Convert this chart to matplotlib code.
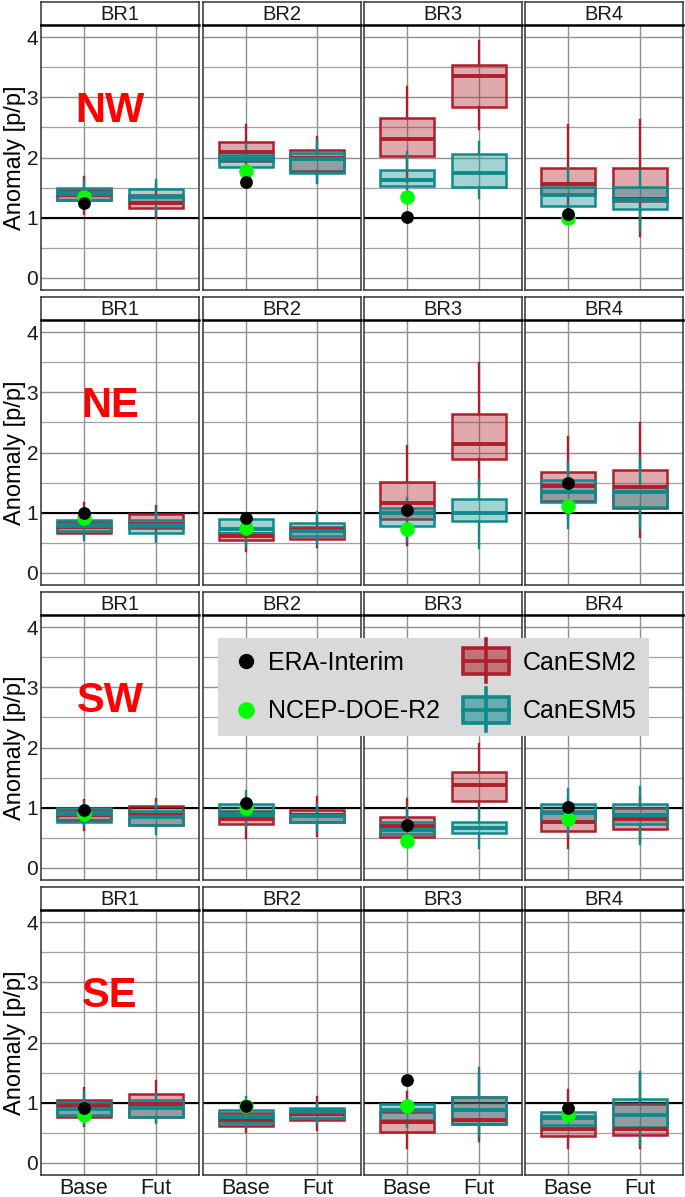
import matplotlib
matplotlib.use("Agg")
import matplotlib.pyplot as plt
from matplotlib.lines import Line2D
from matplotlib.patches import Rectangle
from matplotlib.legend_handler import HandlerBase

plt.rcParams["font.family"] = ["Liberation Sans", "DejaVu Sans"]

regions = ["NW", "NE", "SW", "SE"]
basins = ["BR1", "BR2", "BR3", "BR4"]
periods = ["Base", "Fut"]

# box stats per basin: [whisker_lo, q1, median, q3, whisker_hi]
canesm2_base = {
    "NW": [[1.07, 1.29, 1.38, 1.46, 1.68], [1.75, 1.95, 2.09, 2.26, 2.54],
           [1.60, 2.02, 2.30, 2.65, 3.17], [1.05, 1.40, 1.56, 1.83, 2.54]],
    "NE": [[0.60, 0.66, 0.76, 0.85, 1.16], [0.36, 0.55, 0.61, 0.67, 0.90],
           [0.47, 0.90, 1.16, 1.51, 2.11], [0.90, 1.20, 1.44, 1.68, 2.25]],
    "SW": [[0.63, 0.80, 0.88, 0.97, 1.13], [0.50, 0.73, 0.82, 0.94, 1.15],
           [0.40, 0.52, 0.69, 0.84, 1.14], [0.33, 0.61, 0.76, 0.95, 1.15]],
    "SE": [[0.61, 0.77, 0.94, 1.05, 1.24], [0.51, 0.61, 0.72, 0.83, 1.00],
           [0.25, 0.51, 0.68, 0.85, 1.18], [0.25, 0.45, 0.56, 0.78, 1.21]],
}
canesm2_fut = {
    "NW": [[0.99, 1.16, 1.25, 1.38, 1.55], [1.60, 1.78, 2.00, 2.13, 2.34],
           [2.48, 2.84, 3.36, 3.54, 3.93], [0.70, 1.27, 1.31, 1.83, 2.62]],
    "NE": [[0.55, 0.75, 0.82, 0.98, 1.11], [0.43, 0.56, 0.72, 0.76, 0.92],
           [1.46, 1.89, 2.14, 2.64, 3.49], [0.60, 1.08, 1.42, 1.71, 2.49]],
    "SW": [[0.65, 0.72, 0.88, 1.03, 1.14], [0.53, 0.77, 0.88, 0.96, 1.17],
           [1.00, 1.12, 1.38, 1.60, 2.06], [0.45, 0.65, 0.81, 0.99, 1.20]],
    "SE": [[0.70, 0.77, 0.98, 1.14, 1.36], [0.55, 0.72, 0.82, 0.88, 1.09],
           [0.36, 0.65, 0.71, 1.10, 1.45], [0.25, 0.46, 0.57, 0.98, 1.48]],
}
canesm5_base = {
    "NW": [[1.18, 1.30, 1.40, 1.49, 1.62], [1.70, 1.85, 1.97, 2.04, 2.23],
           [1.40, 1.53, 1.62, 1.80, 2.09], [1.00, 1.20, 1.38, 1.51, 1.82]],
    "NE": [[0.55, 0.69, 0.78, 0.88, 1.05], [0.45, 0.66, 0.73, 0.90, 1.00],
           [0.55, 0.78, 0.99, 1.08, 1.24], [0.74, 1.18, 1.35, 1.55, 1.82]],
    "SW": [[0.70, 0.77, 0.90, 0.99, 1.08], [0.70, 0.86, 0.90, 1.06, 1.27],
           [0.45, 0.56, 0.63, 0.76, 1.00], [0.55, 0.76, 0.92, 1.07, 1.31]],
    "SE": [[0.65, 0.79, 0.90, 1.02, 1.18], [0.60, 0.66, 0.76, 0.88, 1.10],
           [0.60, 0.72, 0.88, 0.98, 1.05], [0.55, 0.63, 0.74, 0.84, 1.00]],
}
canesm5_fut = {
    "NW": [[1.05, 1.25, 1.35, 1.48, 1.63], [1.57, 1.75, 1.97, 2.08, 2.29],
           [1.32, 1.51, 1.75, 2.06, 2.26], [0.80, 1.15, 1.30, 1.51, 1.78]],
    "NE": [[0.51, 0.67, 0.79, 0.88, 1.05], [0.48, 0.61, 0.70, 0.83, 1.02],
           [0.41, 0.87, 1.00, 1.23, 1.55], [0.75, 1.10, 1.35, 1.45, 1.89]],
    "SW": [[0.56, 0.72, 0.85, 0.94, 1.08], [0.62, 0.77, 0.86, 0.90, 1.05],
           [0.33, 0.58, 0.67, 0.76, 1.00], [0.40, 0.73, 0.88, 1.06, 1.35]],
    "SE": [[0.66, 0.77, 0.91, 1.05, 1.15], [0.65, 0.74, 0.84, 0.91, 1.00],
           [0.45, 0.65, 0.88, 1.10, 1.57], [0.30, 0.59, 0.80, 1.07, 1.51]],
}
era_interim = {"NW": [1.25, 1.60, 1.02, 1.06], "NE": [1.00, 0.92, 1.05, 1.49],
               "SW": [0.97, 1.08, 0.71, 1.01], "SE": [0.91, 0.94, 1.38, 0.92]}
ncep_doe = {"NW": [1.35, 1.78, 1.34, 1.00], "NE": [0.91, 0.75, 0.73, 1.11],
            "SW": [0.90, 1.00, 0.44, 0.82], "SE": [0.80, 0.95, 0.94, 0.80]}

red = "#AE1F2C"
teal = "#0E8A8C"

W, H = 685, 1197
fig = plt.figure(figsize=(W / 100, H / 100), dpi=100)


def px_box(x0, y0, x1, y1):
    return [x0 / W, 1 - y1 / H, (x1 - x0) / W, (y1 - y0) / H]


def stat(s):
    return dict(whislo=s[0], q1=s[1], med=s[2], q3=s[3], whishi=s[4], fliers=[])


def draw_boxes(ax, stats, color):
    ax.bxp(stats, positions=[1, 2], widths=0.75, patch_artist=True,
           showcaps=False, showfliers=False, manage_ticks=False,
           boxprops=dict(facecolor=color, alpha=0.38, edgecolor="none"),
           whiskerprops=dict(color=color, lw=1.7), medianprops=dict(color=color, lw=2.8),
           zorder=3)
    # outline drawn separately so edges stay strong
    ax.bxp(stats, positions=[1, 2], widths=0.75, patch_artist=True,
           showcaps=False, showfliers=False, manage_ticks=False,
           boxprops=dict(facecolor="none", edgecolor=color, lw=1.8),
           whiskerprops=dict(color=color, lw=0), medianprops=dict(color=color, lw=0),
           zorder=3)


col_left = [41, 202.5, 364, 525]
panel_w = 158
for r, reg in enumerate(regions):
    top = 25 + 295 * r
    for c, br in enumerate(basins):
        x0 = col_left[c]
        ax = fig.add_axes(px_box(x0, top, x0 + panel_w, top + 265))
        s2 = [stat(canesm2_base[reg][c]), stat(canesm2_fut[reg][c])]
        s5 = [stat(canesm5_base[reg][c]), stat(canesm5_fut[reg][c])]
        draw_boxes(ax, s2, red)
        draw_boxes(ax, s5, teal)
        ax.scatter([1], [ncep_doe[reg][c]], s=110, color="#00FF00", zorder=5, lw=0)
        ax.scatter([1], [era_interim[reg][c]], s=85, color="black", zorder=6, lw=0)
        ax.axhline(1, color="black", lw=1.5, zorder=2)

        ax.set_xlim(0.4, 2.6)
        ax.set_ylim(-0.2, 4.2)
        ax.set_yticks([0, 1, 2, 3, 4])
        ax.set_yticks([0.5, 1.5, 2.5, 3.5], minor=True)
        ax.set_xticks([1, 2])
        ax.set_axisbelow(True)
        ax.grid(True, which="major", color="#8f8f8f", lw=1.0)
        ax.grid(True, which="minor", axis="y", color="#a0a0a0", lw=0.9)
        ax.tick_params(which="both", length=0, labelsize=15, pad=2, colors="#1a1a1a")
        for sp in ax.spines.values():
            sp.set_color("#333333")
            sp.set_linewidth(1.1)

        if r == len(regions) - 1:
            ax.set_xticklabels(periods, fontsize=15.5)
            ax.tick_params(axis="x", pad=2)
        else:
            ax.set_xticklabels([])
        if c == 0:
            ax.set_ylabel("Anomaly [p/p]", fontsize=17, labelpad=0)
            ax.text(1.36, 2.78, reg, color="#FF0000", fontsize=30, fontweight="bold",
                    ha="center", va="center", zorder=7)
        else:
            ax.set_yticklabels([])

        # facet strip
        sx = fig.add_axes(px_box(x0, top - 23, x0 + panel_w, top))
        sx.set_xticks([])
        sx.set_yticks([])
        for sp in sx.spines.values():
            sp.set_color("#333333")
            sp.set_linewidth(1.1)
        sx.spines["bottom"].set_color("black")
        sx.spines["bottom"].set_linewidth(1.8)
        sx.text(0.5, 0.45, br, ha="center", va="center", fontsize=14.5, color="#1a1a1a",
                transform=sx.transAxes)


class BoxKey(HandlerBase):
    def __init__(self, color):
        super().__init__()
        self.color = color

    def create_artists(self, legend, orig_handle, xdescent, ydescent, width, height,
                       fontsize, trans):
        cx = width / 2 - xdescent - 10
        cy = height / 2 - ydescent
        bw, bh, wh = 33, 19, 31
        arts = [
            Line2D([cx, cx], [cy - wh / 2, cy + wh / 2], color=self.color, lw=2.6),
            Rectangle((cx - bw / 2, cy - bh / 2), bw, bh, facecolor=self.color, alpha=0.55,
                      edgecolor="none"),
            Rectangle((cx - bw / 2, cy - bh / 2), bw, bh, facecolor="none",
                      edgecolor=self.color, lw=2.6),
            Line2D([cx - bw / 2, cx + bw / 2], [cy, cy], color=self.color, lw=2.6),
        ]
        for a in arts:
            a.set_transform(trans)
        return arts


h_era = Line2D([], [], marker="o", ls="none", color="black", markersize=10)
h_ncep = Line2D([], [], marker="o", ls="none", color="#00FF00", markersize=11)
h_e2 = Rectangle((0, 0), 1, 1)
h_e5 = Rectangle((0, 0), 1, 1)
leg = fig.legend([h_era, h_ncep, h_e2, h_e5],
                 ["ERA-Interim", "NCEP-DOE-R2", "CanESM2", "CanESM5"],
                 handler_map={h_e2: BoxKey(red), h_e5: BoxKey(teal)},
                 ncol=2, loc="upper left", bbox_to_anchor=(218 / W, 1 - 638 / H),
                 fontsize=18, frameon=True, fancybox=False, facecolor="#D9D9D9",
                 edgecolor="none", framealpha=1, borderpad=0.5, borderaxespad=0,
                 handlelength=1.2, handletextpad=0.3, columnspacing=1.8,
                 labelspacing=1.0)
leg.set_zorder(10)

fig.savefig("out.png", dpi=100)
